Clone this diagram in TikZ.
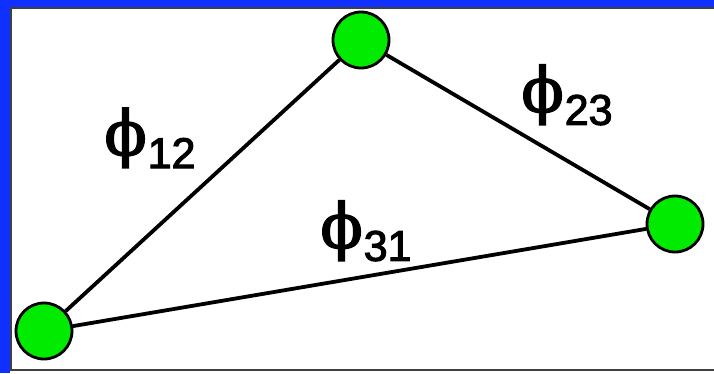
\documentclass[tikz,border=0pt]{standalone}
\usepackage{fontspec}
\setmainfont{Liberation Sans}
\newfontfamily\phifont{DejaVu Serif}[FakeBold=2.5]
\newfontfamily\digfont{Liberation Sans}[FakeBold=2.5]
\definecolor{bandblue}{RGB}{16,48,255}
\definecolor{nodegreen}{RGB}{0,235,0}
\definecolor{framegray}{RGB}{64,64,64}
\newcommand{\phil}[1]{{\phifont\fontsize{62}{62}\selectfont ϕ}\kern1pt\raisebox{-13pt}{\digfont\fontsize{43}{43}\selectfont #1}}
\begin{document}
\begin{tikzpicture}[x=1pt,y=-1pt,
  vertex/.style={circle,draw=black,line width=2.8pt,fill=nodegreen,minimum size=56pt,inner sep=0pt},
  edge/.style={draw=black,line width=3.8pt},
  lab/.style={inner sep=0pt,anchor=center}]
\useasboundingbox (0,0) rectangle (714,373);
\clip (0,0) rectangle (714,373);
\fill[bandblue] (0,0) rectangle (714,373);
\fill[white] (9.5,6.5) rectangle (760,373);
\draw[framegray,line width=2.5pt] (11,8) rectangle (760,370);
\node[vertex] (a) at (44,331) {};
\node[vertex] (b) at (361,40) {};
\node[vertex] (c) at (675,224) {};
\draw[edge] (a) -- (b);
\draw[edge] (b) -- (c);
\draw[edge] (a) -- (c);
\node[lab] (l12) at (150,138) {\phil{12}};
\node[lab] (l23) at (567,95) {\phil{23}};
\node[lab] (l31) at (366,231) {\phil{31}};
\end{tikzpicture}
\end{document}
